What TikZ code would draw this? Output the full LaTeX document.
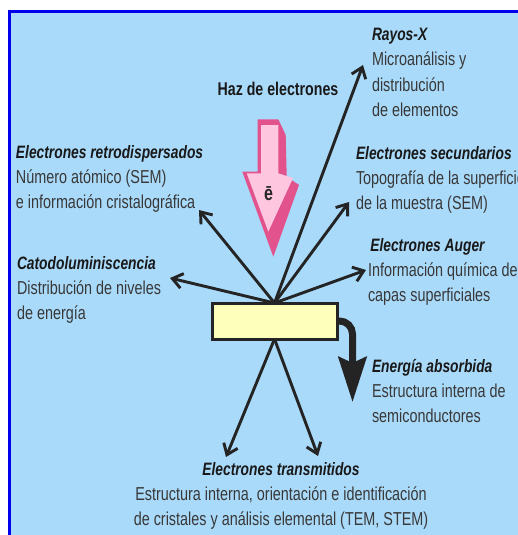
\documentclass[tikz,border=0pt]{standalone}
\usepackage{fontspec}
\setmainfont{Liberation Sans}
\usetikzlibrary{arrows.meta}
\definecolor{fondo}{RGB}{170,218,250}
\definecolor{marco}{RGB}{0,0,235}
\definecolor{tinta}{RGB}{36,36,36}
\definecolor{rosa}{RGB}{255,198,224}
\definecolor{rosaosc}{RGB}{226,82,140}
\definecolor{amarillo}{RGB}{255,255,188}
\newcommand{\titulo}[1]{{\fontsize{13.8}{19.5}\selectfont\bfseries\itshape\color{black!90}#1}}

\begin{document}
\begin{tikzpicture}[x=1pt,y=-1pt,inner sep=0pt,outer sep=0pt,
rayo/.style={draw=tinta,line width=2.9pt,-{Straight Barb[length=10pt,width=15pt]}},
absorbe/.style={draw=tinta,line width=7pt,rounded corners=13pt,-{Stealth[length=45pt,width=28pt,inset=6pt]}},
rotulo/.style={anchor=north west,align=left,yscale=1.3,text=black!78,font=\fontsize{14.4}{19.5}\selectfont},
muestrabox/.style={draw=tinta,fill=amarillo,line width=3pt,rectangle,minimum width=125pt,minimum height=36pt}]

\useasboundingbox (0,0) rectangle (518,535);
\clip (0,0) rectangle (518,535);
\fill[white] (0,0) rectangle (518,535);
\filldraw[fill=fondo,draw=marco,line width=3pt] (9.5,12) rectangle (560,580);

% haz de electrones
\draw (278,89) node[yscale=1.3,font=\fontsize{14.2}{17}\selectfont\bfseries,text=black!90] (haz) {Haz de electrones};
\fill[rosaosc] (257.7,119.3) -- (278.3,119.3) -- (285.7,135) -- (286.7,176.7) -- (299,185) -- (273.3,256.7)
  -- (242.3,171.7) -- (257.7,171.7) -- cycle;
\fill[rosa] (261,125) -- (278.3,125) -- (278.3,173.3) -- (293,178) -- (268.3,231.7) -- (246.7,173.3)
  -- (261,173.3) -- cycle;
\draw (268.5,194) node[yscale=1.3,font=\fontsize{16}{18}\selectfont\bfseries,text=black!85] (elec) {ē};

\draw (274.5,321) node[muestrabox] (muestra) {};

\coordinate (rayosX) at (363,65);
\coordinate (secund) at (349,202);
\coordinate (auger) at (366,270);
\coordinate (retro) at (199,210);
\coordinate (catodo) at (170,278);
\coordinate (transI) at (226,457);
\coordinate (transD) at (318,456);
\coordinate (energia) at (352.5,402);

\draw[rayo] (muestra.north) -- (rayosX);
\draw[rayo] (muestra.north) -- (secund);
\draw[rayo] (muestra.north) -- (auger);
\draw[rayo] (muestra.north) -- (retro);
\draw[rayo] (muestra.north) -- (catodo);
\draw[rayo] (muestra.south) -- (transI);
\draw[rayo] (muestra.south) -- (transD);
\draw[absorbe] (muestra.east) -| (energia);

\draw (372,28) node[rotulo] (lRayos) {\titulo{Rayos-X}\\Microanálisis y\\distribución\\de elementos};
\draw (16,145) node[rotulo] (lRetro) {\titulo{Electrones retrodispersados}\\Número atómico (SEM)\\e información cristalográfica};
\draw (356,146) node[rotulo] (lSecund) {\titulo{Electrones secundarios}\\Topografía de la superficie\\de la muestra (SEM)};
\draw (368,238) node[rotulo] (lAuger) {\titulo{\,Electrones Auger}\\Información química de\\capas superficiales};
\draw (17,256) node[rotulo] (lCatodo) {\titulo{Catodoluminiscencia}\\Distribución de niveles\\de energía};
\draw (372,359) node[rotulo] (lEnergia) {\titulo{Energía absorbida}\\Estructura interna de\\semiconductores};
\draw (281,462) node[rotulo,anchor=north,align=center] (lTrans) {\titulo{Electrones transmitidos}\\Estructura interna, orientación e identificación\\de cristales y análisis elemental (TEM, STEM)};
\end{tikzpicture}
\end{document}
